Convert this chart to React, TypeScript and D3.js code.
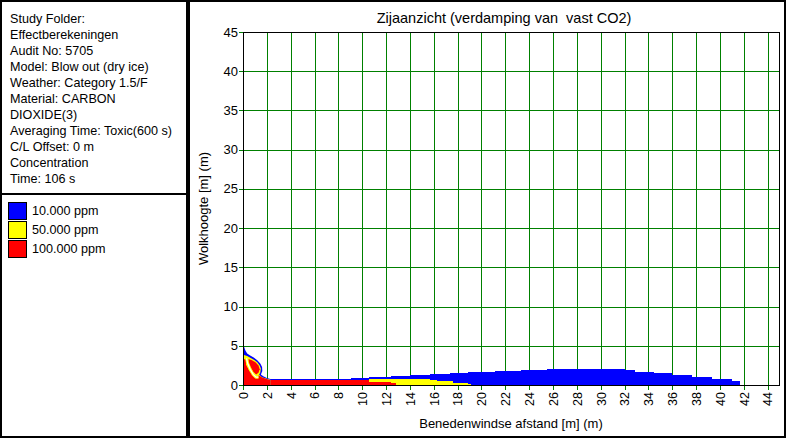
import React from 'react';
import * as d3 from 'd3';

const infoLines = [
  'Study Folder:',
  'Effectberekeningen',
  'Audit No: 5705',
  'Model: Blow out (dry ice)',
  'Weather: Category 1.5/F',
  'Material: CARBON',
  'DIOXIDE(3)',
  'Averaging Time: Toxic(600 s)',
  'C/L Offset: 0 m',
  'Concentration',
  'Time: 106 s',
];

const legendLabels = ['10.000 ppm', '50.000 ppm', '100.000 ppm'];
const legendColors = ['#0000ff', '#ffff00', '#ff0000'];

const titleText = 'Zijaanzicht (verdamping van  vast CO2)';
const xLabel = 'Benedenwindse afstand [m] (m)';
const yLabel = 'Wolkhoogte [m] (m)';

const xTicks = [0, 2, 4, 6, 8, 10, 12, 14, 16, 18, 20, 22, 24, 26, 28, 30, 32, 34, 36, 38, 40, 42, 44];
const yTicks = [0, 5, 10, 15, 20, 25, 30, 35, 40, 45];

// Step bands: edges (m) and top heights (m) per segment
const blueEdges = [1.9, 9.1, 10.6, 12.4, 14.0, 15.7, 17.4, 18.9, 21.1, 23.3, 25.5, 32.0, 32.9, 34.5, 36.0, 37.7, 39.3, 41.0, 41.7];
const blueTops = [0.77, 0.93, 1.06, 1.19, 1.31, 1.44, 1.57, 1.70, 1.82, 1.95, 2.08, 1.91, 1.70, 1.49, 1.28, 1.06, 0.80, 0.55];

const yellowEdges = [1.9, 10.6, 15.7, 16.3, 17.6, 18.9, 19.1];
const yellowTops = [0.6, 0.77, 0.64, 0.47, 0.30, 0.13];

const redEdges = [0, 10.6, 12.4, 12.8];
const redTops = [0.6, 0.42, 0.22];

// Near-source cloud outlines (x m, y m)
const srcBlue: [number, number][] = [
  [0, 0], [0, 4.7], [0.1, 4.85], [0.2, 4.4], [0.35, 4.0], [0.6, 3.75], [0.9, 3.5], [1.2, 3.15],
  [1.45, 2.75], [1.6, 2.3], [1.62, 1.8], [1.5, 1.35], [1.7, 1.1], [2.0, 0.9], [2.3, 0.77], [2.3, 0],
];
const srcYellow: [number, number][] = [
  [0, 0], [0, 3.9], [0.15, 3.8], [0.35, 3.7], [0.65, 3.45], [0.95, 3.2], [1.2, 2.9], [1.4, 2.5],
  [1.5, 2.1], [1.45, 1.6], [1.35, 1.3], [1.6, 1.0], [2.0, 0.8], [2.3, 0.66], [2.3, 0],
];
const srcRedColumn: [number, number][] = [
  [0, 0], [0, 3.3], [0.25, 3.25], [0.25, 2.6], [0.5, 1.9], [0.8, 1.2], [1.0, 0.9], [1.0, 0],
];
const srcRedLobe: [number, number][] = [
  [0.45, 3.3], [0.75, 3.15], [1.05, 2.9], [1.3, 2.5], [1.4, 2.0], [1.3, 1.55], [1.1, 1.35],
  [0.85, 1.7], [0.6, 2.3], [0.45, 2.9],
];
const srcRedBase: [number, number][] = [
  [0, 0], [0, 0.9], [1.0, 0.9], [1.2, 1.15], [1.35, 1.2], [1.6, 0.95], [2.0, 0.75], [2.3, 0.62], [2.3, 0],
];
const srcGap: [number, number][] = [
  [0.3, 3.4], [0.38, 2.8], [0.6, 2.0], [0.85, 1.35], [1.1, 1.0], [1.3, 1.0],
];

const FONT = 'Arial, "Liberation Sans", sans-serif';

function stepPoints(edges: number[], tops: number[]): [number, number][] {
  const pts: [number, number][] = [];
  tops.forEach((t, i) => pts.push([edges[i], t]));
  pts.push([edges[edges.length - 1], tops[tops.length - 1]]);
  return pts;
}

export default function App() {
  const W = 788;
  const H = 439;
  const plot = { left: 243, top: 32, right: 779.5, bottom: 385 };
  const x = d3.scaleLinear().domain([0, 45]).range([plot.left, plot.right]);
  const y = d3.scaleLinear().domain([0, 45]).range([plot.bottom, plot.top]);

  const area = d3
    .area<[number, number]>()
    .x((d) => x(d[0]))
    .y0(y(0))
    .y1((d) => y(d[1]))
    .curve(d3.curveStepAfter);
  const poly = d3
    .line<[number, number]>()
    .x((d) => x(d[0]))
    .y((d) => y(d[1]));

  const green = '#008000';

  return (
    <svg width={W} height={H} style={{ position: 'absolute', left: 0, top: 0, background: '#fff' }}>
      <rect x={0} y={0} width={W} height={H} fill="#fff" />
      {/* panels */}
      <rect x={1} y={1} width={186} height={436} fill="none" stroke="#000" strokeWidth={2} shapeRendering="crispEdges" />
      <line x1={1} x2={187} y1={194} y2={194} stroke="#000" strokeWidth={2} shapeRendering="crispEdges" />
      <rect x={189} y={1} width={596} height={436} fill="none" stroke="#000" strokeWidth={2} shapeRendering="crispEdges" />

      {/* info text */}
      {infoLines.map((t, i) => (
        <text key={i} x={10} y={19 + i * 16} dy="0.35em" fontFamily={FONT} fontSize={12.6} fill="#000">
          {t}
        </text>
      ))}

      {/* legend */}
      {legendLabels.map((t, i) => (
        <g key={i}>
          <rect x={8.5} y={202.5 + i * 19} width={18} height={17} fill={legendColors[i]} stroke="#000" strokeWidth={1} shapeRendering="crispEdges" />
          <text x={32} y={211 + i * 19} dy="0.35em" fontFamily={FONT} fontSize={12.6} fill="#000">
            {t}
          </text>
        </g>
      ))}

      {/* title */}
      <text x={504} y={18} dy="0.35em" textAnchor="middle" fontFamily={FONT} fontSize={14.5} fill="#000" style={{ whiteSpace: 'pre' }}>
        {titleText}
      </text>

      {/* grid */}
      <g shapeRendering="crispEdges">
        {xTicks.map((v) => (
          <line key={'gx' + v} x1={Math.round(x(v)) + 0.5} x2={Math.round(x(v)) + 0.5} y1={plot.top} y2={plot.bottom + 5} stroke={green} strokeWidth={1} />
        ))}
        {yTicks.map((v) => (
          <line key={'gy' + v} x1={plot.left - 4} x2={plot.right} y1={Math.round(y(v)) + 0.5} y2={Math.round(y(v)) + 0.5} stroke={green} strokeWidth={1} />
        ))}
      </g>

      {/* cloud bands */}
      <g shapeRendering="crispEdges">
        <path d={area(stepPoints(blueEdges, blueTops)) || ''} fill="#0000ff" />
        <path d={area(stepPoints(yellowEdges, yellowTops)) || ''} fill="#ffff00" />
        <path d={area(stepPoints(redEdges, redTops)) || ''} fill="#ff0000" />
      </g>
      <g>
        <path d={(poly(srcBlue) || '') + 'Z'} fill="#0000ff" />
        <path d={(poly(srcYellow) || '') + 'Z'} fill="#ffff00" />
        <path d={(poly(srcRedColumn) || '') + 'Z'} fill="#ff0000" />
        <path d={(poly(srcRedBase) || '') + 'Z'} fill="#ff0000" />
        <path d={(poly(srcRedLobe) || '') + 'Z'} fill="#ff0000" />
        <path d={poly(srcGap) || ''} fill="none" stroke="#ffff00" strokeWidth={3} />
        <path d={poly(srcGap) || ''} fill="none" stroke="#ffffff" strokeWidth={1.3} />
      </g>

      {/* plot border */}
      <rect x={plot.left + 0.5} y={plot.top + 0.5} width={plot.right - plot.left - 1} height={plot.bottom - plot.top} fill="none" stroke="#000" strokeWidth={1} shapeRendering="crispEdges" />

      {/* y tick labels */}
      {yTicks.map((v) => (
        <text key={'ty' + v} x={238} y={y(v)} dy="0.35em" textAnchor="end" fontFamily={FONT} fontSize={13} fill="#000">
          {v}
        </text>
      ))}
      {/* x tick labels */}
      {xTicks.map((v) => (
        <text
          key={'tx' + v}
          transform={`translate(${x(v) + 0.5},${plot.bottom + 7}) rotate(-90)`}
          dy="0.35em"
          textAnchor="end"
          fontFamily={FONT}
          fontSize={12.5}
          fill="#000"
        >
          {v}
        </text>
      ))}

      {/* axis labels */}
      <text x={511} y={423} dy="0.35em" textAnchor="middle" fontFamily={FONT} fontSize={13} fill="#000">
        {xLabel}
      </text>
      <text transform={`translate(203,${(plot.top + plot.bottom) / 2}) rotate(-90)`} dy="0.35em" textAnchor="middle" fontFamily={FONT} fontSize={13} fill="#000">
        {yLabel}
      </text>
    </svg>
  );
}
